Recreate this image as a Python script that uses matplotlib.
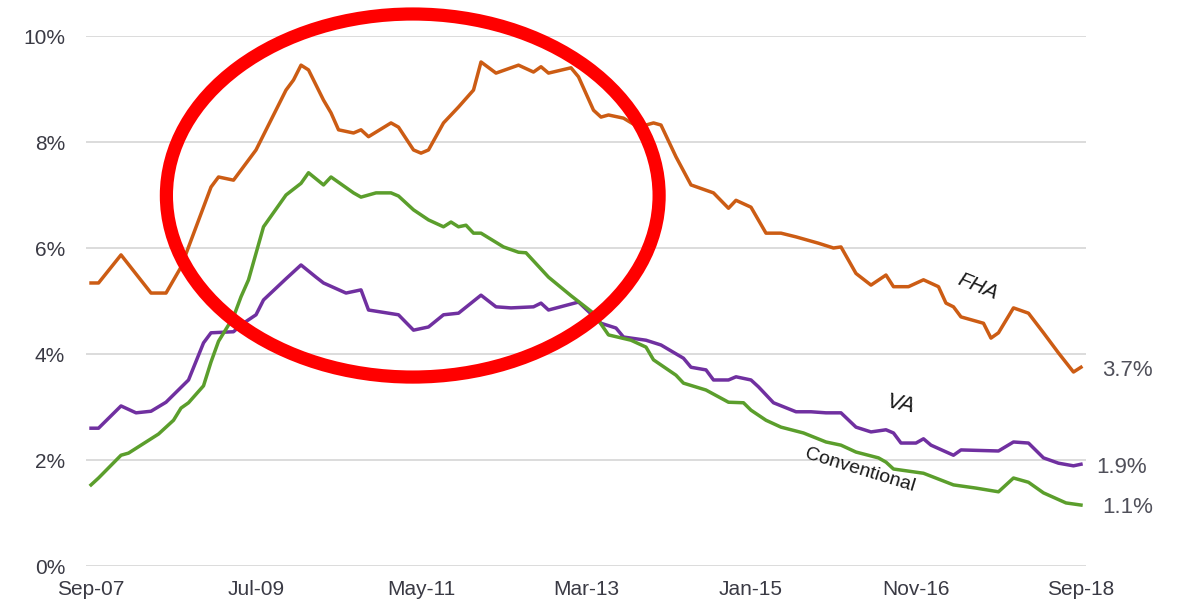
import matplotlib
matplotlib.use("Agg")
import matplotlib.pyplot as plt
from matplotlib.patches import Ellipse

plt.rcParams["font.family"] = ["Liberation Sans", "DejaVu Sans"]

# months since Sep-07 and delinquency rate (%)
fha_months = [0, 1, 4, 8, 10, 12, 16, 17, 19, 22, 26, 27, 28, 29, 31, 32, 33, 35,
              36, 37, 40, 41, 43, 44, 45, 47, 49, 51, 52, 54, 57, 59, 60, 61, 64,
              65, 67, 68, 69, 71, 73, 75, 76, 78, 80, 83, 85, 86, 88, 90, 92, 94,
              97, 99, 100, 102, 104, 106, 107, 109, 111, 113, 114, 115, 116, 119,
              120, 121, 123, 125, 127, 129, 131, 132]
fha_rate = [5.34, 5.34, 5.87, 5.15, 5.15, 5.64, 7.15, 7.34, 7.28, 7.85, 8.98, 9.17,
            9.45, 9.36, 8.79, 8.55, 8.23, 8.17, 8.23, 8.10, 8.36, 8.28, 7.85, 7.79,
            7.85, 8.36, 8.66, 8.98, 9.51, 9.30, 9.45, 9.32, 9.42, 9.30, 9.40, 9.23,
            8.60, 8.47, 8.51, 8.45, 8.28, 8.36, 8.32, 7.72, 7.19, 7.04, 6.75, 6.90,
            6.77, 6.28, 6.28, 6.21, 6.09, 6.00, 6.02, 5.52, 5.30, 5.49, 5.27, 5.27,
            5.40, 5.27, 4.96, 4.89, 4.70, 4.58, 4.30, 4.40, 4.87, 4.77, 4.40, 4.02,
            3.66, 3.75]

va_months = [0, 1, 4, 6, 8, 10, 13, 15, 16, 19, 20, 22, 23, 26, 28, 30, 31, 34, 36,
             37, 41, 43, 45, 47, 49, 52, 54, 56, 59, 60, 61, 65, 68, 70, 71, 74, 76,
             79, 80, 82, 83, 85, 86, 88, 89, 90, 91, 94, 96, 98, 100, 102, 104, 106,
             107, 108, 110, 111, 112, 115, 116, 121, 123, 125, 127, 129, 131, 132]
va_rate = [2.60, 2.60, 3.02, 2.89, 2.92, 3.09, 3.51, 4.21, 4.40, 4.42, 4.55, 4.74,
           5.02, 5.42, 5.68, 5.45, 5.34, 5.15, 5.21, 4.83, 4.74, 4.45, 4.51, 4.74,
           4.77, 5.11, 4.89, 4.87, 4.89, 4.96, 4.83, 4.98, 4.58, 4.49, 4.32, 4.26,
           4.17, 3.92, 3.75, 3.70, 3.51, 3.51, 3.57, 3.51, 3.38, 3.23, 3.08, 2.91,
           2.91, 2.89, 2.89, 2.62, 2.53, 2.57, 2.51, 2.32, 2.32, 2.40, 2.28, 2.09,
           2.19, 2.17, 2.34, 2.32, 2.04, 1.94, 1.89, 1.92]

conv_months = [0, 1, 4, 5, 9, 11, 12, 13, 15, 16, 17, 19, 20, 21, 23, 26, 28, 29,
               31, 32, 35, 36, 38, 40, 41, 43, 45, 47, 48, 49, 50, 51, 52, 55, 57,
               58, 61, 64, 67, 69, 72, 74, 75, 78, 79, 82, 85, 87, 88, 90, 92, 95,
               98, 100, 102, 105, 106, 107, 111, 115, 118, 121, 123, 125, 127, 130,
               132]
conv_rate = [1.53, 1.66, 2.09, 2.13, 2.49, 2.75, 2.98, 3.08, 3.40, 3.85, 4.24, 4.70,
             5.08, 5.40, 6.40, 7.00, 7.22, 7.42, 7.19, 7.34, 7.04, 6.96, 7.04, 7.04,
             6.98, 6.72, 6.53, 6.40, 6.49, 6.40, 6.43, 6.28, 6.28, 6.02, 5.92, 5.91,
             5.45, 5.10, 4.77, 4.36, 4.26, 4.13, 3.89, 3.60, 3.45, 3.32, 3.09, 3.08,
             2.94, 2.75, 2.62, 2.51, 2.34, 2.28, 2.15, 2.04, 1.96, 1.83, 1.75, 1.53,
             1.47, 1.40, 1.66, 1.58, 1.38, 1.19, 1.15]

tick_months = [0, 22, 44, 66, 88, 110, 132]
tick_labels = ["Sep-07", "Jul-09", "May-11", "Mar-13", "Jan-15", "Nov-16", "Sep-18"]
y_ticks = [0, 2, 4, 6, 8, 10]
end_labels = ["3.7%", "1.9%", "1.1%"]

c_fha = "#cc5c14"
c_va = "#7030a0"
c_conv = "#5b9e2c"
txt = "#3a3a44"


def main():
  fig = plt.figure(figsize=(11.84, 6.08), dpi=100)
  ax = fig.add_axes([86/1184, 42/608, 1000/1184, 530/608])

  ax.plot(fha_months, fha_rate, color=c_fha, lw=2.5, solid_joinstyle="round")
  ax.plot(va_months, va_rate, color=c_va, lw=2.5, solid_joinstyle="round")
  ax.plot(conv_months, conv_rate, color=c_conv, lw=2.5, solid_joinstyle="round")

  ax.set_xlim(-0.67, 132.67)
  ax.set_ylim(0, 10)
  ax.set_yticks(y_ticks)
  ax.set_yticklabels([f"{v}%" for v in y_ticks])
  ax.set_xticks(tick_months)
  ax.set_xticklabels(tick_labels)
  ax.tick_params(axis="y", length=0, pad=15, labelsize=15, labelcolor=txt)
  ax.tick_params(axis="x", length=0, pad=10, labelsize=15, labelcolor=txt)
  ax.grid(axis="y", color="#d9d9d9", lw=1.3)
  ax.set_axisbelow(True)
  for s in ax.spines.values():
    s.set_visible(False)

  # value labels at the end of each line
  ends = [(fha_months, fha_rate), (va_months, va_rate), (conv_months, conv_rate)]
  offs = [15, 11, 15]
  for (m, r), lab, dx in zip(ends, end_labels, offs):
    ax.annotate(lab, (m[-1], r[-1]), xytext=(dx, -2), textcoords="offset points",
                ha="left", va="center", fontsize=16, color="#50505a",
                annotation_clip=False)

  # series names along the lines
  ax.text(118.3, 5.26, "FHA", rotation=-22, fontsize=15, style="italic",
          color="#1a1a1a", ha="center", va="center")
  ax.text(107.9, 3.04, "VA", rotation=-12, fontsize=16, style="italic",
          color="#1a1a1a", ha="center", va="center")
  ax.text(102.5, 1.81, "Conventional", rotation=-17, fontsize=14,
          color="#1a1a1a", ha="center", va="center")

  # red highlight ring
  ring = Ellipse((42.9, 6.99), 65.7, 6.85, fill=False, edgecolor="#ff0000",
                 lw=9.5, clip_on=False, zorder=5)
  ax.add_patch(ring)

  fig.savefig("out.png", dpi=100)


if __name__ == "__main__":
  main()
